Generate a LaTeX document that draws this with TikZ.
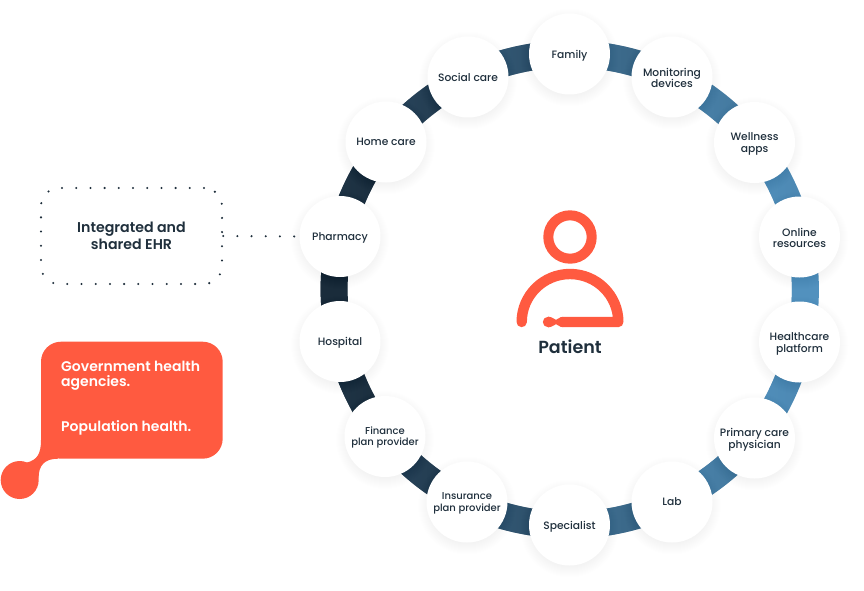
\documentclass[tikz,border=0pt]{standalone}
\usepackage{fontspec}
\setmainfont{Poppins}[UprightFont=* Medium,BoldFont=* SemiBold]
\usetikzlibrary{fadings}
\definecolor{ringL}{HTML}{1A2C3B}
\definecolor{ringR}{HTML}{5291BE}
\definecolor{ink}{HTML}{1F2F3C}
\definecolor{coral}{HTML}{FF5A40}
\pgfdeclarelayer{ringlayer}
\pgfdeclarelayer{shadowlayer}
\pgfsetlayers{ringlayer,shadowlayer,main}
\newcommand\up{\rule{0pt}{11.2pt}}
\newcommand\hup{\rule{0pt}{9.8pt}}
\tikzset{
  x=1pt,y=-1pt,
  member/.style={circle,fill=white,minimum size=81pt,inner sep=0pt,align=center,
    text=ink,font=\fontsize{10.7}{11.7}\selectfont},
  membersmall/.style={member,font=\fontsize{10}{11.2}\selectfont},
  link/.style={line width=27pt,line cap=butt,bend left=12.86,looseness=0.86},
  soft/.style={black,opacity=0.0045},
  dots/.style={draw=ink,line width=2.3pt,line cap=round,dash pattern=on 0pt off 14.2pt},
  ehr/.style={dots,rounded corners=18pt,minimum width=181pt,minimum height=96pt,align=center,
    text=ink,font=\fontsize{14.2}{17}\selectfont\bfseries},
  govtext/.style={anchor=west,inner sep=0pt,align=left,text=white,font=\fontsize{14}{15}\selectfont\bfseries},
  icon/.style={draw=coral,line width=10.4pt,line cap=round,line join=round},
}
\begin{document}
\begin{tikzpicture}
\useasboundingbox (0,0) rectangle (864,591);
% members of the circle
\node[member] (family) at (569.5,54) {\up Family};
\node[member] (monitor) at (672,77) {\hup Monitoring\\devices};
\node[member] (well) at (754.5,142.5) {\up Wellness\\apps};
\node[member] (online) at (799.5,237) {\hup Online\\resources};
\node[member] (platform) at (799.5,342) {\up Healthcare\\platform};
\node[member] (primary) at (754.5,438) {\up Primary care\\physician};
\node[member] (lab) at (672,502) {Lab};
\node[member] (spec) at (569.5,525) {\up Specialist};
\node[membersmall] (insur) at (467,502) {\hup Insurance\\plan provider};
\node[membersmall] (finance) at (385,436.5) {\hup Finance\\plan provider};
\node[member] (hospital) at (340,341.5) {\up Hospital};
\node[member] (pharmacy) at (340,236.5) {\up Pharmacy};
\node[member] (home) at (386,142) {Home care};
\node[member] (social) at (468,77) {Social care};
% soft shadows
\begin{pgfonlayer}{shadowlayer}
\foreach \n in {family,monitor,well,online,platform,primary,lab,spec,insur,finance,hospital,pharmacy,home,social}
  \foreach \r in {38,39,...,49}
    \fill[soft] ([yshift=-3.5pt]\n.center) circle (\r pt);
\end{pgfonlayer}
% ring pieces, coloured left to right
\begin{pgfonlayer}{ringlayer}
\foreach \a/\b/\p/\q in {
  family/monitor/50/72, monitor/well/72/90, well/online/90/100, online/platform/100/100,
  platform/primary/90/100, primary/lab/72/90, lab/spec/50/72, spec/insur/28/50,
  insur/finance/10/28, finance/hospital/0/10, hospital/pharmacy/0/0, pharmacy/home/0/10,
  home/social/10/28, social/family/28/50}{
  \draw[link,draw=ringR!\p!ringL] (\a.center) to (\b.center);
  \draw[link,draw=ringR!\q!ringL,path fading=east] (\a.center) to (\b.center);
}
\end{pgfonlayer}
% patient icon
\draw[coral,line width=10pt] (570,237) circle (21.7pt);
\node[coordinate] (bodyL) at (521.7,322) {};
\node[coordinate] (bodyR) at (618.3,322) {};
\node[coordinate] (bodyT) at (570,274) {};
\node[coordinate] (barL) at (563,322) {};
\draw[icon] (bodyL) .. controls (521.7,295.5) and (543.3,274) .. (bodyT)
  .. controls (596.7,274) and (618.3,295.5) .. (bodyR) -- (barL);
\node[circle,fill=coral,minimum size=10.4pt,inner sep=0pt] (bud) at (548,322) {};
\fill[coral] (bud.north) .. controls (553,316.8) and (554,319.8) .. (556,319.8)
  .. controls (558,319.8) and (559,316.8) .. (563,316.8) -- (563,327.2)
  .. controls (559,327.2) and (558,324.2) .. (556,324.2)
  .. controls (554,324.2) and (553,327.2) .. (bud.south) -- cycle;
\node[text=ink,inner sep=0pt,font=\fontsize{17.5}{20}\selectfont\bfseries] (patient) at (570,347) {Patient};
% EHR box
\node[ehr] (ehrbox) at (131.5,236) {Integrated and\\shared EHR};
\draw[dots,shorten >=5pt] (ehrbox.east) -- (pharmacy.west);
% government bubble
\fill[coral,rounded corners=20pt] (41,341.7) rectangle (222.7,458.7);
\node[circle,fill=coral,minimum size=38pt,inner sep=0pt] (drop) at (19.7,480) {};
\fill[coral] (41,440) .. controls (41,454) and (37,460) .. (27,462.5)
  -- (38.6,478) .. controls (38.6,466) and (44,458.7) .. (58,458.7) -- cycle;
\node[govtext] (gov) at (61,375.5) {Government health\\agencies.};
\node[govtext] (pop) at (61,427.5) {Population health.};
\end{tikzpicture}
\end{document}
